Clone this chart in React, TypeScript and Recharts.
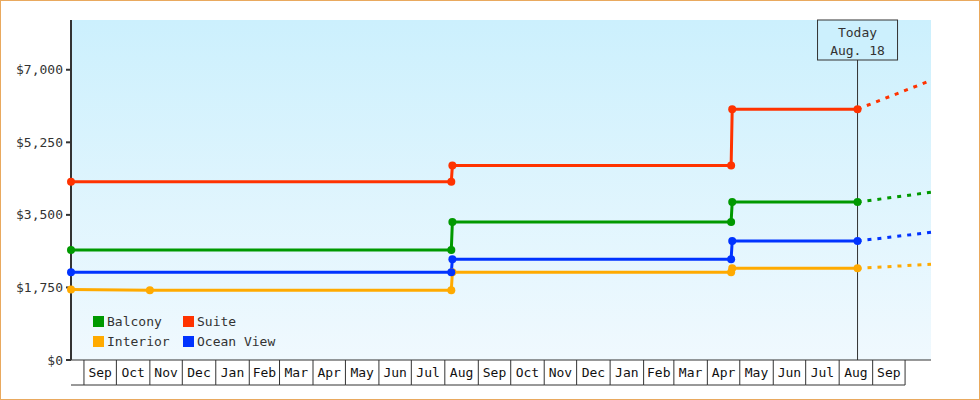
import React from 'react';
import { LineChart, Line, XAxis, YAxis, CartesianGrid, ReferenceLine, Legend } from 'recharts';

const ORIGIN = Date.UTC(2013, 8, 1);
const toDay = (s: string) => Math.round((Date.parse(s) - ORIGIN) / 86400000);

// axis labels
const MONTH_LABELS = [
  'Sep', 'Oct', 'Nov', 'Dec', 'Jan', 'Feb', 'Mar', 'Apr', 'May', 'Jun', 'Jul', 'Aug',
  'Sep', 'Oct', 'Nov', 'Dec', 'Jan', 'Feb', 'Mar', 'Apr', 'May', 'Jun', 'Jul', 'Aug', 'Sep',
];
const Y_TICKS = [0, 1750, 3500, 5250, 7000];

// dates of the price points
const RANGE_DATES = ['2013-08-20', '2015-10-25'];
const TODAY = '2015-08-18';
const STEP_DATES = ['2013-08-20', '2014-08-07', '2014-08-08', '2015-04-23', '2015-04-24', '2015-08-18'];
const INTERIOR_DATES = ['2013-08-20', '2013-11-01', '2014-08-07', '2014-08-08', '2015-04-23', '2015-04-24', '2015-08-18'];
const FORECAST_DATES = ['2015-08-18', '2015-10-25'];

// prices
const balcony = [2650, 2650, 3330, 3330, 3810, 3810];
const suite = [4300, 4300, 4690, 4690, 6050, 6050];
const oceanView = [2115, 2115, 2430, 2430, 2870, 2870];
const interior = [1700, 1680, 1680, 2115, 2115, 2210, 2210];

// projected prices after today
const balconyForecast = [3810, 4045];
const suiteForecast = [6050, 6745];
const oceanViewForecast = [2870, 3080];
const interiorForecast = [2210, 2310];

const COLORS = { balcony: '#009900', suite: '#ff3300', interior: '#ffaa00', ocean: '#0033ff' };
const FONT = '"DejaVu Sans Mono", monospace';

const toPoints = (dates: string[], values: number[]) =>
  dates.map((d, i) => ({ day: toDay(d), value: values[i] }));

const DOMAIN = [toDay(RANGE_DATES[0]), toDay(RANGE_DATES[1])];
const MONTH_STARTS = [...MONTH_LABELS, ''].map((_, i) =>
  Math.round((Date.UTC(2013, 8 + i, 1) - ORIGIN) / 86400000)
);

const CHART_W = 978;
const CHART_H = 398;
const MARGIN = { top: 19, right: 48, bottom: 0, left: 0 };
const Y_AXIS_W = 70;
const PLOT_W = CHART_W - MARGIN.left - MARGIN.right - Y_AXIS_W;
const PPD = PLOT_W / (DOMAIN[1] - DOMAIN[0]);

const MonthTick = (props: any) => {
  const { x, y, payload } = props;
  const start = payload.value;
  const i = MONTH_STARTS.indexOf(start);
  const next = MONTH_STARTS[i + 1];
  const bottom = y + 25;
  return (
    <g>
      <line x1={x} y1={y} x2={x} y2={bottom} stroke="#333" />
      {i === 0 && (
        <line x1={x - (start - DOMAIN[0]) * PPD} y1={bottom} x2={x} y2={bottom} stroke="#333" />
      )}
      {next !== undefined && (
        <>
          <line x1={x} y1={bottom} x2={x + (next - start) * PPD} y2={bottom} stroke="#333" />
          <text
            x={x + ((next - start) * PPD) / 2}
            y={y + 17}
            textAnchor="middle"
            fontSize={13}
            fontFamily={FONT}
            fill="#111"
          >
            {MONTH_LABELS[i]}
          </text>
        </>
      )}
    </g>
  );
};

const TodayLabel = (props: any) => {
  const { viewBox } = props;
  const cx = viewBox.x;
  const top = viewBox.y;
  return (
    <g>
      <rect x={cx - 40} y={top} width={80} height={40} fill="#ccf0fd" stroke="#333" />
      <text x={cx} y={top + 17} textAnchor="middle" fontSize={13} fontFamily={FONT} fill="#333">
        Today
      </text>
      <text x={cx} y={top + 35} textAnchor="middle" fontSize={13} fontFamily={FONT} fill="#333">
        Aug. 18
      </text>
    </g>
  );
};

const LEGEND_ITEMS = [
  { name: 'Balcony', color: COLORS.balcony },
  { name: 'Suite', color: COLORS.suite },
  { name: 'Interior', color: COLORS.interior },
  { name: 'Ocean View', color: COLORS.ocean },
];

const LegendBox = () => (
  <div style={{ display: 'grid', gridTemplateColumns: '90px 110px', rowGap: 7, fontFamily: FONT, fontSize: 13, color: '#333' }}>
    {LEGEND_ITEMS.map((it) => (
      <div key={it.name} style={{ display: 'flex', alignItems: 'center', height: 13 }}>
        <span style={{ display: 'inline-block', width: 11, height: 11, background: it.color, marginRight: 3 }} />
        <span>{it.name}</span>
      </div>
    ))}
  </div>
);

const fmt = (v: number) => '$' + v.toLocaleString('en-US');

export default function App() {
  const series = [
    { key: 'interior', dates: INTERIOR_DATES, values: interior, fc: interiorForecast, color: COLORS.interior },
    { key: 'ocean', dates: STEP_DATES, values: oceanView, fc: oceanViewForecast, color: COLORS.ocean },
    { key: 'balcony', dates: STEP_DATES, values: balcony, fc: balconyForecast, color: COLORS.balcony },
    { key: 'suite', dates: STEP_DATES, values: suite, fc: suiteForecast, color: COLORS.suite },
  ];

  return (
    <div
      style={{
        width: 980,
        height: 400,
        border: '1px solid #e9a95e',
        boxSizing: 'border-box',
        background: '#fff',
        position: 'relative',
      }}
    >
      <style>{'body{margin:0}'}</style>
      <LineChart width={CHART_W} height={CHART_H} margin={MARGIN}>
        <defs>
          <linearGradient id="plotBg" x1="0" y1="0" x2="0" y2="1">
            <stop offset="0%" stopColor="#ccf0fd" />
            <stop offset="100%" stopColor="#f0f9fe" />
          </linearGradient>
        </defs>
        <CartesianGrid horizontal={false} vertical={false} fill="url(#plotBg)" />
        <XAxis
          dataKey="day"
          type="number"
          domain={DOMAIN}
          ticks={MONTH_STARTS}
          interval={0}
          height={39}
          tickSize={0}
          tickMargin={0}
          tickLine={false}
          axisLine={{ stroke: '#333' }}
          tick={MonthTick}
        />
        <YAxis
          type="number"
          domain={[0, 8200]}
          ticks={Y_TICKS}
          width={Y_AXIS_W}
          tickFormatter={fmt}
          axisLine={{ stroke: '#333', strokeWidth: 2 }}
          tickLine={{ stroke: '#333', strokeWidth: 2 }}
          tickSize={5}
          tickMargin={3}
          tick={{ fill: '#333', fontSize: 13, fontFamily: FONT }}
        />
        <ReferenceLine x={toDay(TODAY)} stroke="#333" strokeWidth={1} label={<TodayLabel />} />
        <Legend
          layout="vertical"
          align="center"
          verticalAlign="middle"
          wrapperStyle={{ left: 92, top: 314, width: 220 }}
          content={() => <LegendBox />}
        />
        {series.map((s) => (
          <Line
            key={s.key + '-fc'}
            data={toPoints(FORECAST_DATES, s.fc)}
            dataKey="value"
            stroke={s.color}
            strokeWidth={3}
            strokeDasharray="4 6"
            dot={false}
            activeDot={false}
            legendType="none"
            isAnimationActive={false}
          />
        ))}
        {series.map((s) => (
          <Line
            key={s.key}
            data={toPoints(s.dates, s.values)}
            dataKey="value"
            stroke={s.color}
            strokeWidth={3}
            dot={{ r: 4, fill: s.color, stroke: 'none' }}
            activeDot={false}
            isAnimationActive={false}
          />
        ))}
      </LineChart>
    </div>
  );
}
